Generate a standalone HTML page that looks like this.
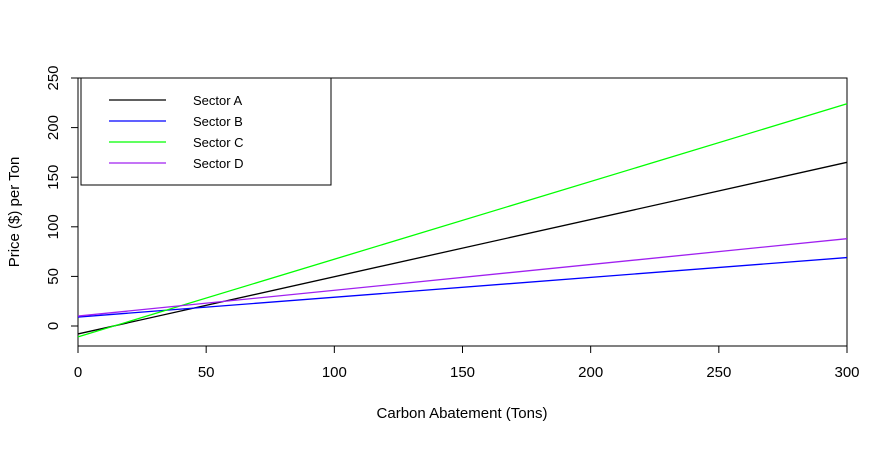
<!DOCTYPE html>
<html><head><meta charset="utf-8"><style>
body{margin:0;background:#fff;}
svg text{font-family:"Liberation Sans",Arial,sans-serif;}
</style></head><body>
<svg id="chart" width="887" height="444" xmlns="http://www.w3.org/2000/svg">
<rect x="78" y="78" width="769" height="268" fill="none" stroke="#000" stroke-width="1"/>
<g id="xticks"></g>
<g id="yticks"></g>
<g id="lines"></g>
<text x="462" y="418" font-size="15" text-anchor="middle">Carbon Abatement (Tons)</text>
<text transform="translate(19,212) rotate(-90)" font-size="15" text-anchor="middle">Price ($) per Ton</text>
<g>
<rect x="81" y="78" width="250" height="107" fill="#fff" stroke="#000"/>
<g id="legend-entries"></g>
</g>
</svg>
<script>
const xs = [0, 300];
const seriesNames = ["Sector A","Sector B","Sector C","Sector D"];
const sectorA = [-8, 165];
const sectorB = [9, 69];
const sectorC = [-11, 224];
const sectorD = [10, 88];
const xTicks = [0,50,100,150,200,250,300];
const yTicks = [0,50,100,150,200,250];
const colors = ["#000000","#0000ff","#00ff00","#a020f0"];
const NS="http://www.w3.org/2000/svg";
function X(v){return 78+v*(769/300);}
function Y(v){return 326-v*(248/250);}
function mk(t,a,p){const e=document.createElementNS(NS,t);for(const k in a)e.setAttribute(k,a[k]);p.appendChild(e);return e;}
const xg=document.getElementById('xticks');
xTicks.forEach(t=>{
  const l=mk('line',{x1:X(t),x2:X(t),y1:346,y2:353,stroke:'#000'},xg);
  
  
  const tx=mk('text',{x:X(t),y:377,'font-size':15,'text-anchor':'middle'},xg);tx.textContent=t;
  
  
});
const yg=document.getElementById('yticks');
yTicks.forEach(t=>{
  const l=mk('line',{x1:71,x2:78,y1:Y(t),y2:Y(t),stroke:'#000'},yg);
  
  
  const tx=mk('text',{transform:`translate(58,${Y(t)}) rotate(-90)`,'font-size':15,'text-anchor':'middle'},yg);tx.textContent=t;
  
  
});
const lg=document.getElementById('lines');
[sectorA,sectorB,sectorC,sectorD].forEach((s,i)=>{
  const pts=s.map((v,j)=>X(xs[j])+','+Y(v)).join(' ');
  const p=mk('polyline',{points:pts,fill:'none',stroke:colors[i],'stroke-width':1.3},lg);
  
  
});
const le=document.getElementById('legend-entries');
seriesNames.forEach((n,i)=>{
  const y=100+i*21;
  const l=mk('line',{x1:109,x2:166,y1:y,y2:y,stroke:colors[i],'stroke-width':1.3},le);
  
  
  const t=mk('text',{x:193,y:y+5,'font-size':13},le);t.textContent=n;
  
  
});
</script>
</body></html>
